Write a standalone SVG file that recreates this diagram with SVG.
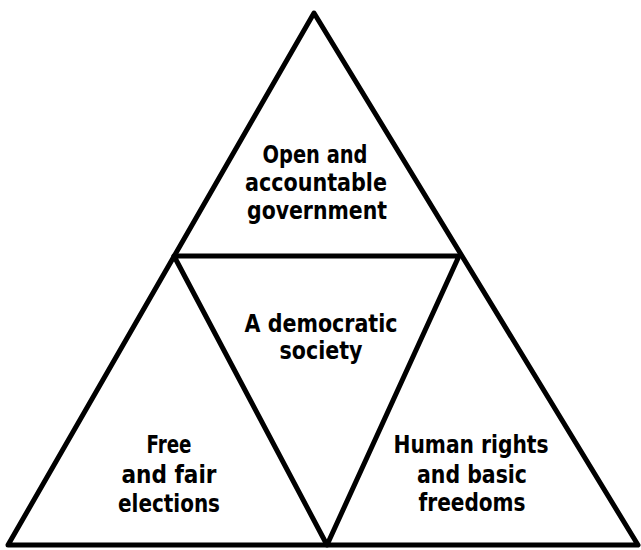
<svg xmlns="http://www.w3.org/2000/svg" width="641" height="550" viewBox="0 0 641 550">
<style>
.ln{fill:none;stroke:#000;stroke-width:5;stroke-linejoin:round;stroke-linecap:round}
.t{font-family:"DejaVu Sans Condensed","DejaVu Sans",sans-serif;font-weight:bold;font-size:25px;fill:#000;text-anchor:middle}
</style>
<rect width="641" height="550" fill="#fff"/>
<g id="lines">
<path class="ln" d="M314,13 L638,545 L8,545 Z"/>
<path class="ln" d="M174,256 L459,256 L327,545 Z"/>
</g>
<g id="top">
<text class="t" x="315" y="163" textLength="105" lengthAdjust="spacingAndGlyphs">Open and</text>
<text class="t" x="316" y="191" textLength="142" lengthAdjust="spacingAndGlyphs">accountable</text>
<text class="t" x="317" y="219" textLength="140" lengthAdjust="spacingAndGlyphs">government</text>
</g>
<g id="center">
<text class="t" x="321" y="332" textLength="153" lengthAdjust="spacingAndGlyphs">A democratic</text>
<text class="t" x="321" y="359" textLength="83" lengthAdjust="spacingAndGlyphs">society</text>
</g>
<g id="left">
<text class="t" x="169" y="453" textLength="45" lengthAdjust="spacingAndGlyphs">Free</text>
<text class="t" x="169" y="483" textLength="95" lengthAdjust="spacingAndGlyphs">and fair</text>
<text class="t" x="169" y="512" textLength="102" lengthAdjust="spacingAndGlyphs">elections</text>
</g>
<g id="right">
<text class="t" x="471" y="453" textLength="155" lengthAdjust="spacingAndGlyphs">Human rights</text>
<text class="t" x="472" y="483" textLength="110" lengthAdjust="spacingAndGlyphs">and basic</text>
<text class="t" x="472" y="511" textLength="107" lengthAdjust="spacingAndGlyphs">freedoms</text>
</g>
</svg>
